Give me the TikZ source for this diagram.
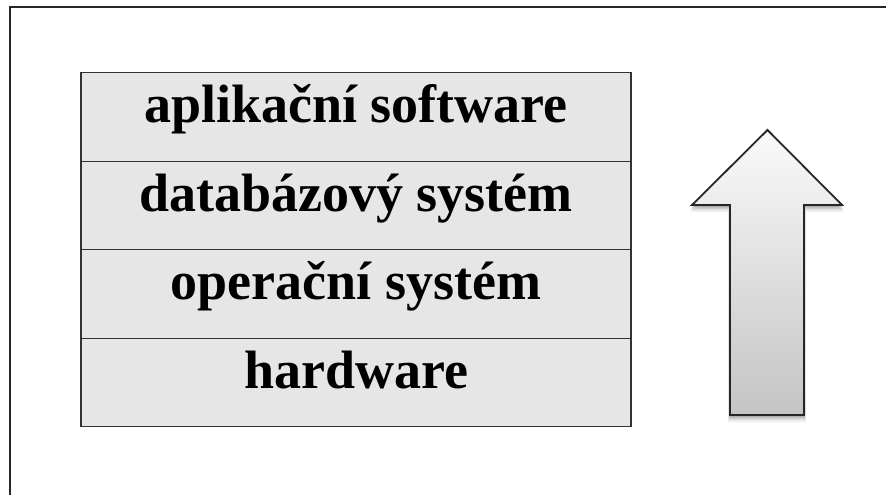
\documentclass[tikz,border=0pt]{standalone}
\usepackage{fontspec}
\setmainfont{Liberation Serif}
\usetikzlibrary{positioning}
\definecolor{rowfill}{HTML}{E6E6E6}
\definecolor{rowline}{HTML}{333333}
\definecolor{arrtop}{HTML}{FAFAFA}
\definecolor{arrbot}{HTML}{C4C4C4}
\tikzset{
  layer/.style={draw=rowline, line width=1.4pt, fill=rowfill, inner sep=0pt,
    minimum width=550pt, text height=50pt, text depth=38.5pt, anchor=north,
    font=\fontsize{54}{60}\selectfont\bfseries},
  frame/.style={draw=black!85, line width=1.6pt},
}
\begin{document}
\begin{tikzpicture}[x=1pt,y=-1pt]
\useasboundingbox (0,0) rectangle (886,495);
\fill[white] (0,0) rectangle (886,495);
% frame (only top and left edges visible)
\coordinate (fa) at (886,7);
\coordinate (fb) at (10,7);
\coordinate (fc) at (10,495);
\draw[frame] (fa) -- (fb) -- (fc);
% layers
\node[layer] (app) at (356,72) {aplikační software};
\node[layer] (db) at (356,160.5) {databázový systém};
\node[layer] (os) at (356,249) {operační systém};
\node[layer] (hw) at (356,337.5) {hardware};
% arrow shadow
\foreach \o/\a in {7/0.06,5/0.08,3.5/0.10,2/0.12}{
  \fill[black, opacity=\a]
    (767.5,130+\o) -- (842+\o*0.3,205+\o) -- (804+\o*0.3,205+\o) -- (804+\o*0.3,415+\o)
    -- (730-\o*0.3,415+\o) -- (730-\o*0.3,205+\o) -- (692-\o*0.3,205+\o) -- cycle;
}
% arrow
\draw[line width=1.8pt, draw=black!85, top color=arrtop, bottom color=arrbot, line join=miter]
  (767.5,130) -- (842,205) -- (804,205) -- (804,415) -- (730,415) -- (730,205) -- (692,205) -- cycle;
\end{tikzpicture}
\end{document}
